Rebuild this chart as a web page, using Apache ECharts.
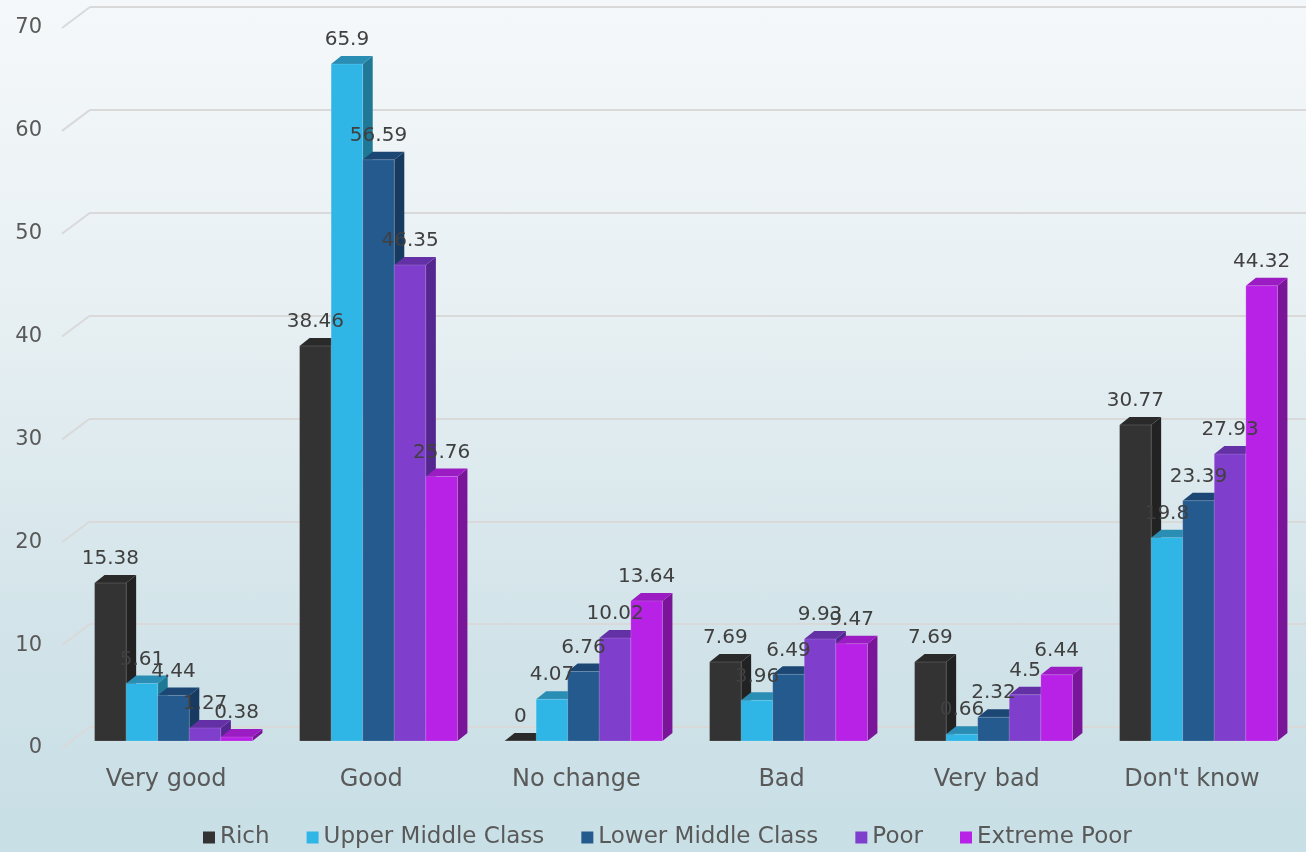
<!DOCTYPE html>
<html>
<head>
<meta charset="utf-8">
<script src="https://cdn.jsdelivr.net/npm/echarts@6/dist/echarts.min.js"></script>
<style>
html,body{margin:0;padding:0;}
#chart{width:1306px;height:852px;background:linear-gradient(to bottom,#f5f8fa 0%,#e8f0f3 35%,#cfe2e8 80%,#c8dfe6 100%);}
</style>
</head>
<body>
<div id="chart"></div>
<script>
const categories = ['Very good', 'Good', 'No change', 'Bad', 'Very bad', "Don't know"];
const seriesNames = ['Rich', 'Upper Middle Class', 'Lower Middle Class', 'Poor', 'Extreme Poor'];
const rich = [15.38, 38.46, 0, 7.69, 7.69, 30.77];
const upperMiddle = [5.61, 65.9, 4.07, 3.96, 0.66, 19.8];
const lowerMiddle = [4.44, 56.59, 6.76, 6.49, 2.32, 23.39];
const poor = [1.27, 46.35, 10.02, 9.93, 4.5, 27.93];
const extremePoor = [0.38, 25.76, 13.64, 9.47, 6.44, 44.32];
const yTicks = [0, 10, 20, 30, 40, 50, 60, 70];

const allValues = [rich, upperMiddle, lowerMiddle, poor, extremePoor];
const palette = [
  {front: '#333333', top: '#2a2a2a', side: '#222222'},
  {front: '#2fb6e6', top: '#2a8db4', side: '#1f7896'},
  {front: '#255a8f', top: '#1c4673', side: '#173a60'},
  {front: '#7f3fcc', top: '#6330a6', side: '#54268f'},
  {front: '#b822e6', top: '#9a1cc2', side: '#7a1599'}
];
const FONT = '"DejaVu Sans", sans-serif';
const DX = 10, DY = 8;

function makeRender(si) {
  const col = palette[si];
  return function (params, api) {
    const idx = api.value(0);
    const v = api.value(1);
    const top = api.coord([idx, v]);
    const base = api.coord([idx, 0]);
    const band = api.size([1, 0])[0];
    const group = band * 0.77;
    const bw = group / 5;
    const x0 = top[0] - group / 2 + si * bw;
    const x1 = x0 + bw;
    const yt = top[1], yb = base[1];
    return {
      type: 'group',
      children: [
        {type: 'polygon', shape: {points: [[x1, yt], [x1 + DX, yt - DY], [x1 + DX, yb - DY], [x1, yb]]}, style: {fill: col.side}},
        {type: 'polygon', shape: {points: [[x0, yt], [x0 + DX, yt - DY], [x1 + DX, yt - DY], [x1, yt]]}, style: {fill: col.top}},
        {type: 'rect', shape: {x: x0, y: yt, width: bw, height: Math.max(yb - yt, 0)}, style: {fill: col.front, stroke: 'rgba(255,255,255,0.15)', lineWidth: 1}},
        {type: 'text', z2: 100, style: {text: String(v), x: x0 + bw / 2, y: yt - 24, align: 'center', verticalAlign: 'middle', textAlign: 'center', textVerticalAlign: 'middle', font: '20px ' + FONT, fill: '#404040'}}
      ]
    };
  };
}

const barSeries = allValues.map((arr, si) => ({
  type: 'custom',
  name: seriesNames[si],
  xAxisIndex: 0,
  yAxisIndex: 0,
  z: 5,
  itemStyle: {color: palette[si].front},
  renderItem: makeRender(si),
  encode: {x: 0, y: 1},
  data: arr.map((v, i) => [i, v])
}));

const diagSeries = {
  type: 'custom',
  xAxisIndex: 2,
  yAxisIndex: 2,
  z: 1,
  silent: true,
  renderItem: function (params, api) {
    const v = api.value(0);
    const a = api.coord([0, v]);
    const b = api.coord([1, v]);
    return {type: 'line', shape: {x1: a[0], y1: a[1], x2: b[0], y2: b[1] - 21}, style: {stroke: '#d9d9d9', lineWidth: 2}};
  },
  encode: {y: 0},
  data: yTicks.map(v => [v])
};

const chart = echarts.init(document.getElementById('chart'));
chart.setOption({
  backgroundColor: 'transparent',
  animation: false,
  textStyle: {fontFamily: FONT},
  legend: {
    top: 821,
    left: 198,
    data: seriesNames,
    icon: 'rect',
    itemWidth: 12,
    itemHeight: 12,
    itemGap: 37,
    textStyle: {fontSize: 23, color: '#595959', fontFamily: FONT, padding: [0, 0, 0, 0]}
  },
  grid: [
    {left: 71, right: 5, top: 22, bottom: 111},
    {left: 90, right: 0, top: 7, bottom: 125},
    {left: 62, right: 1216, top: 28, bottom: 104},
    {left: 63.5, right: 11.5, top: 22, bottom: 111}
  ],
  xAxis: [
    {gridIndex: 0, type: 'category', data: categories, show: false},
    {gridIndex: 1, type: 'value', min: 0, max: 1, show: false},
    {gridIndex: 2, type: 'value', min: 0, max: 1, show: false},
    {gridIndex: 3, type: 'category', data: categories, axisLine: {show: false}, axisTick: {show: false},
      axisLabel: {margin: 27, fontSize: 24, color: '#595959', fontFamily: FONT}}
  ],
  yAxis: [
    {gridIndex: 0, type: 'value', min: 0, max: 70, interval: 10, show: false},
    {gridIndex: 1, type: 'value', min: 0, max: 70, interval: 10, axisLine: {show: false}, axisTick: {show: false}, axisLabel: {show: false},
      splitLine: {show: true, lineStyle: {color: '#d9d9d9', width: 2}}},
    {gridIndex: 2, type: 'value', min: 0, max: 70, interval: 10, axisLine: {show: false}, axisTick: {show: false}, splitLine: {show: false},
      axisLabel: {margin: 20, fontSize: 21, color: '#595959', fontFamily: FONT}},
    {gridIndex: 3, type: 'value', min: 0, max: 70, show: false}
  ],
  series: [diagSeries].concat(barSeries)
});
</script>
</body>
</html>
